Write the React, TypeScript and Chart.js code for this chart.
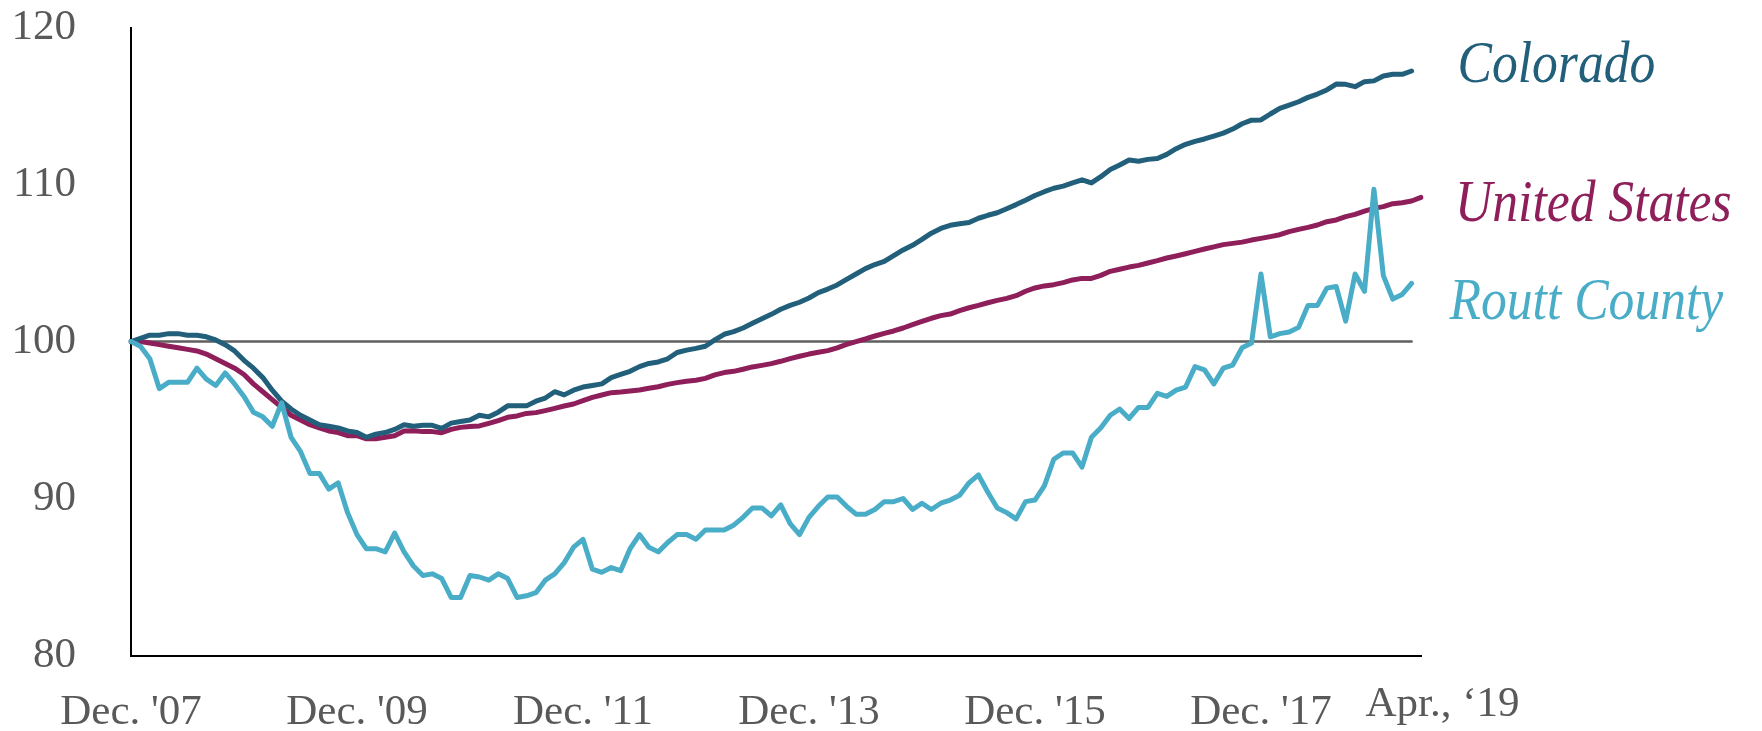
import { useEffect, useRef } from "react";
import { Chart, registerables } from "chart.js";

Chart.register(...registerables);

// ---------- data ----------
const MONTH_NAMES = ["Jan", "Feb", "Mar", "Apr", "May", "Jun", "Jul", "Aug", "Sep", "Oct", "Nov", "Dec"];
// Dec 2007 .. May 2019 (138 monthly categories)
const MONTHS: string[] = [];
for (let k = 0; k < 138; k++) {
  const m = (11 + k) % 12;
  const y = 2007 + Math.floor((11 + k) / 12);
  MONTHS.push(`${MONTH_NAMES[m]} ${y}`);
}

const TICK_INDEX = [0, 24, 48, 72, 96, 120];
const TICK_TEXT = ["Dec. '07", "Dec. '09", "Dec. '11", "Dec. '13", "Dec. '15", "Dec. '17"];
const LAST_TICK_INDEX = 136;
const LAST_TICK_TEXT = "Apr., \u201819";

const SERIES_NAMES = ["Colorado", "United States", "Routt County"];

const COLORADO = [
  100.0, 100.2, 100.4, 100.4, 100.5, 100.5, 100.4, 100.4, 100.3, 100.1,
  99.8, 99.4, 98.8, 98.3, 97.7, 96.9, 96.2, 95.7, 95.3, 95.0,
  94.7, 94.6, 94.5, 94.3, 94.2, 93.9, 94.1, 94.2, 94.4, 94.7,
  94.6, 94.66, 94.66, 94.47, 94.8, 94.9, 95.0, 95.3, 95.2, 95.5,
  95.9, 95.9, 95.9, 96.2, 96.4, 96.8, 96.6, 96.9, 97.1, 97.2,
  97.3, 97.7, 97.9, 98.1, 98.4, 98.6, 98.7, 98.9, 99.3, 99.45,
  99.56, 99.7, 100.1, 100.46, 100.63, 100.86, 101.16, 101.45, 101.73, 102.05,
  102.3, 102.5, 102.77, 103.11, 103.34, 103.6, 103.96, 104.3, 104.64, 104.9,
  105.1, 105.47, 105.83, 106.13, 106.5, 106.9, 107.2, 107.4, 107.5, 107.58,
  107.85, 108.04, 108.2, 108.46, 108.72, 109.0, 109.3, 109.54, 109.76, 109.9,
  110.1, 110.3, 110.1, 110.5, 110.96, 111.24, 111.56, 111.48, 111.6, 111.65,
  111.92, 112.28, 112.56, 112.75, 112.9, 113.08, 113.27, 113.53, 113.87, 114.1,
  114.11, 114.49, 114.85, 115.06, 115.27, 115.55, 115.76, 116.02, 116.4, 116.38,
  116.23, 116.55, 116.6, 116.91, 117.02, 117.02, 117.23,
];

const UNITED_STATES = [
  100.0, 100.0, 99.9, 99.8, 99.7, 99.6, 99.5, 99.4, 99.2, 98.9,
  98.6, 98.3, 97.9, 97.3, 96.8, 96.3, 95.8, 95.3, 95.0, 94.7,
  94.5, 94.3, 94.2, 94.0, 94.0, 93.8, 93.8, 93.9, 94.0, 94.3,
  94.32, 94.26, 94.26, 94.19, 94.4, 94.53, 94.58, 94.62, 94.79, 94.96,
  95.17, 95.26, 95.42, 95.47, 95.6, 95.74, 95.89, 96.02, 96.23, 96.44,
  96.59, 96.74, 96.78, 96.85, 96.91, 97.02, 97.12, 97.27, 97.38, 97.47,
  97.53, 97.65, 97.87, 98.02, 98.1, 98.23, 98.38, 98.48, 98.59, 98.74,
  98.91, 99.06, 99.2, 99.31, 99.42, 99.6, 99.82, 99.99, 100.16, 100.35,
  100.52, 100.67, 100.86, 101.07, 101.28, 101.48, 101.65, 101.75, 101.96, 102.15,
  102.3, 102.47, 102.62, 102.75, 102.92, 103.2, 103.41, 103.54, 103.62, 103.75,
  103.92, 104.02, 104.02, 104.21, 104.47, 104.6, 104.74, 104.85, 105.0, 105.15,
  105.32, 105.45, 105.59, 105.74, 105.89, 106.03, 106.17, 106.25, 106.33, 106.46,
  106.57, 106.68, 106.8, 107.0, 107.14, 107.27, 107.42, 107.63, 107.74, 107.95,
  108.1, 108.31, 108.48, 108.59, 108.78, 108.84, 108.95, 109.18,
];

const ROUTT_COUNTY = [
  100.0, 99.7, 98.9, 97.0, 97.4, 97.4, 97.4, 98.3, 97.6, 97.2,
  98.0, 97.3, 96.5, 95.5, 95.2, 94.6, 96.1, 93.9, 93.0, 91.6,
  91.6, 90.6, 91.0, 89.1, 87.7, 86.8, 86.8, 86.6, 87.8, 86.6,
  85.7, 85.1, 85.2, 84.9, 83.7, 83.7, 85.1, 85.0, 84.8, 85.2,
  84.9, 83.7, 83.8, 84.0, 84.8, 85.2, 85.9, 86.9, 87.4, 85.5,
  85.3, 85.6, 85.4, 86.8, 87.7, 86.9, 86.6, 87.2, 87.7, 87.7,
  87.4, 88.0, 88.0, 88.0, 88.3, 88.8, 89.4, 89.4, 88.9, 89.6,
  88.4, 87.7, 88.8, 89.5, 90.1, 90.1, 89.5, 89.0, 89.0, 89.3,
  89.8, 89.8, 90.0, 89.3, 89.7, 89.3, 89.7, 89.9, 90.2, 91.0,
  91.5, 90.4, 89.4, 89.1, 88.7, 89.8, 89.9, 90.8, 92.5, 92.9,
  92.9, 92.0, 93.9, 94.5, 95.3, 95.7, 95.1, 95.8, 95.8, 96.7,
  96.5, 96.9, 97.1, 98.4, 98.2, 97.3, 98.3, 98.5, 99.6, 99.9,
  104.3, 100.3, 100.5, 100.6, 100.9, 102.3, 102.3, 103.4, 103.5, 101.3,
  104.3, 103.2, 109.7, 104.2, 102.7, 103.0, 103.7,
];

const BASE_VALUE = 100;
const BASELINE = COLORADO.map(() => BASE_VALUE);

const Y_MIN = 80;
const Y_MAX = 120;
const Y_STEP = 10;

// ---------- style ----------
const W = 1762;
const H = 731;
const COLORS = { colorado: "#215F7B", us: "#8E1F5A", routt: "#4AADC8", base: "#5F5F5F", tick: "#595959" };
const LABEL_COLORS = ["#215F7B", "#8E1F5A", "#4AADC8"];
const LABEL_DX = [36.5, 34, 28.5];
const LABEL_BASELINE = [82, 221, 319];
const LABEL_FONT = 60;
const LABEL_SCALE_X = 0.86;
const TICK_FONT = 43;
const SERIF = '"Liberation Serif", "Times New Roman", serif';
const LAST_TICK_SHIFT = 31;
const X_LABEL_CENTER = 705;
const LINE_W = 5;

const labelsPlugin = {
  id: "seriesLabels",
  afterDraw(chart: any) {
    const { ctx, chartArea, scales } = chart;
    ctx.save();
    SERIES_NAMES.forEach((name, k) => {
      ctx.save();
      ctx.font = `italic ${LABEL_FONT}px ${SERIF}`;
      ctx.fillStyle = LABEL_COLORS[k];
      ctx.textAlign = "left";
      ctx.textBaseline = "alphabetic";
      ctx.translate(chartArea.right + LABEL_DX[k], LABEL_BASELINE[k]);
      ctx.scale(LABEL_SCALE_X, 1);
      ctx.fillText(name, 0, 0);
      ctx.restore();
    });
    const xs = scales.x;
    ctx.font = `${TICK_FONT}px ${SERIF}`;
    ctx.fillStyle = COLORS.tick;
    ctx.textAlign = "center";
    ctx.textBaseline = "middle";
    ctx.fillText(LAST_TICK_TEXT, xs.getPixelForValue(LAST_TICK_INDEX) + LAST_TICK_SHIFT, X_LABEL_CENTER);
    ctx.restore();
  },
};

export default function App() {
  const ref = useRef<HTMLCanvasElement | null>(null);

  useEffect(() => {
    if (!ref.current) return;
    const chart = new Chart(ref.current, {
      type: "line",
      data: {
        labels: MONTHS,
        datasets: [
          { label: SERIES_NAMES[2], data: ROUTT_COUNTY, borderColor: COLORS.routt, borderWidth: LINE_W },
          { label: SERIES_NAMES[0], data: COLORADO, borderColor: COLORS.colorado, borderWidth: LINE_W },
          { label: SERIES_NAMES[1], data: UNITED_STATES, borderColor: COLORS.us, borderWidth: LINE_W },
          { label: "Base", data: BASELINE, borderColor: COLORS.base, borderWidth: 2.5 },
        ],
      },
      options: {
        animation: false,
        responsive: false,
        devicePixelRatio: 1,
        layout: { padding: { left: 0, right: 341, top: 27.5, bottom: 0 } },
        elements: {
          point: { radius: 0, hoverRadius: 0 },
          line: { tension: 0, borderCapStyle: "round", borderJoinStyle: "round", fill: false },
        },
        plugins: { legend: { display: false }, tooltip: { enabled: false }, title: { display: false } },
        scales: {
          x: {
            type: "category",
            offset: false,
            grid: { display: false, drawTicks: false },
            border: { display: true, color: "#000000", width: 2 },
            afterBuildTicks: (axis: any) => {
              axis.ticks = TICK_INDEX.map((v) => ({ value: v }));
            },
            afterFit: (s: any) => {
              s.height = 75.5;
              s.paddingLeft = 0;
              s.paddingRight = 0;
            },
            ticks: {
              autoSkip: false,
              maxRotation: 0,
              minRotation: 0,
              padding: 31.5,
              color: COLORS.tick,
              font: { family: SERIF, size: TICK_FONT },
              callback: (v: any) => {
                const k = TICK_INDEX.indexOf(Number(v));
                return k >= 0 ? TICK_TEXT[k] : "";
              },
            },
          },
          y: {
            min: Y_MIN,
            max: Y_MAX,
            grid: { display: false, drawTicks: false },
            border: { display: true, color: "#000000", width: 2 },
            afterFit: (s: any) => {
              s.width = 131;
              s.paddingTop = 0;
              s.paddingBottom = 0;
            },
            ticks: {
              stepSize: Y_STEP,
              padding: 55,
              color: COLORS.tick,
              font: { family: SERIF, size: TICK_FONT },
            },
          },
        },
      },
      plugins: [labelsPlugin],
    });
    return () => chart.destroy();
  }, []);

  return (
    <div style={{ position: "fixed", left: 0, top: 0, width: W, height: H, background: "#fff" }}>
      <canvas ref={ref} width={W} height={H} style={{ display: "block", width: W, height: H }} />
    </div>
  );
}
